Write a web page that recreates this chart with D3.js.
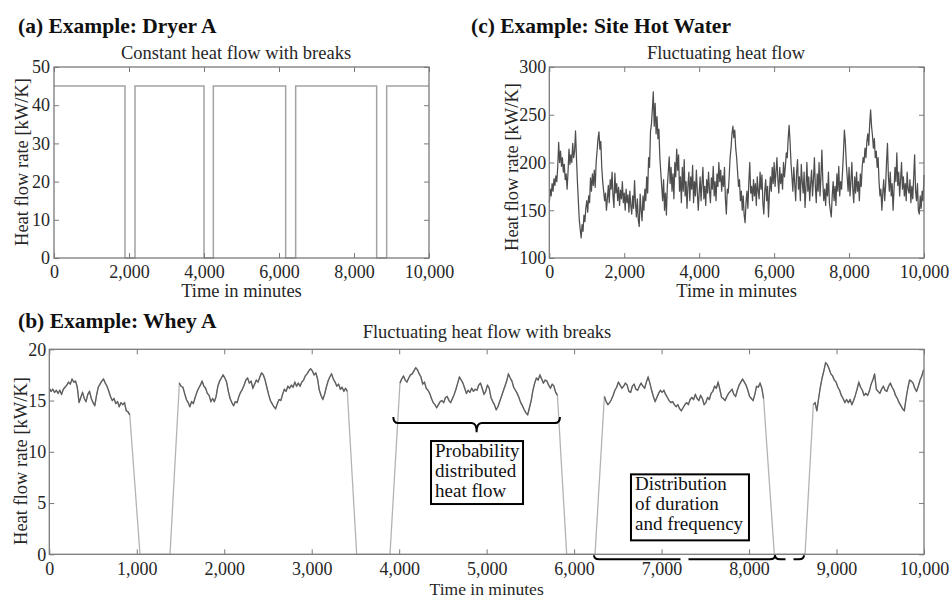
<!DOCTYPE html>
<html>
<head>
<meta charset="utf-8">
<script src="https://cdn.jsdelivr.net/npm/d3@7"></script>
<style>
  body { margin: 0; background: #fff; }
  svg text { font-family: "Liberation Serif", "Times New Roman", serif; }
</style>
</head>
<body>
<svg id="fig" width="949" height="599"></svg>
<script>
// ---------------- data ----------------
// (a) Dryer A: constant heat flow, switched off during breaks (minutes)
const dryerLevel = 45;
const dryerOnStart = [0, 2160, 4249, 6444, 8871];
const dryerOnEnd = [1893, 4000, 6178, 8604, 10000];

// (c) Site hot water: one sample every 25 minutes
const hotWaterStep = 25;
const hotWaterFlow = [
  158,172,165,178,170,183,176,186,180,195,221,200,212,196,205,190,198,182,188,172,
  190,214,198,208,200,220,205,212,233,205,180,160,140,130,121,135,128,145,138,152,
  160,148,165,158,184,170,188,176,192,174,200,212,225,232,214,222,195,180,170,160,
  168,150,162,176,158,182,172,190,165,153,189,168,178,160,174,155,171,162,180,158,
  168,150,172,158,166,148,170,155,146,165,152,181,158,143,162,140,133,167,150,139,
  165,150,172,160,185,168,205,195,232,240,255,274,238,262,230,248,225,235,205,190,
  175,160,182,150,168,145,175,190,206,178,195,170,188,162,200,185,214,192,208,170,
  185,158,195,170,203,165,180,152,176,190,160,185,172,197,158,180,165,192,170,150,
  168,185,160,178,195,162,175,155,182,168,190,170,158,184,172,196,165,180,160,188,
  175,200,180,192,170,186,175,195,162,146,172,168,185,205,215,230,238,226,234,215,
  205,190,175,182,160,170,150,165,145,137,158,170,152,180,200,168,175,160,182,165,
  178,155,185,170,162,190,172,187,158,146,170,182,160,175,143,168,185,170,195,178,
  200,175,190,205,182,168,195,178,188,172,200,185,196,210,205,225,239,222,200,185,
  170,195,178,160,190,203,172,185,160,198,180,168,190,153,175,200,170,185,160,178,
  192,165,182,205,175,158,188,170,200,165,185,213,180,160,172,155,178,165,190,158,
  150,143,165,180,160,175,155,188,170,196,165,180,172,190,210,234,222,200,185,170,
  195,165,180,200,172,158,185,168,190,170,180,160,188,175,195,205,200,215,205,222,
  230,218,240,255,238,228,215,225,205,212,195,205,180,165,172,150,168,182,160,175,
  200,220,185,170,190,165,178,150,172,195,180,210,176,190,165,182,200,172,185,165,
  178,160,190,172,168,182,158,175,162,185,208,170,160,178,150,146,165,152,170,160,
  187
];

// (b) Whey A: production runs sampled every 20 minutes, separated by breaks
const wheyStep = 20;
const wheyRunStart = [0, 1487, 4009, 6346, 8735];
const wheyRun1 = [
  16.2,15.9,16.1,15.8,16.0,15.7,16.0,15.6,16.1,16.3,16.5,16.8,16.6,17.1,16.8,16.9,
  16.3,14.8,15.3,15.8,15.2,14.9,15.6,15.9,15.2,14.8,14.5,15.5,16.3,16.6,16.9,17.1,
  16.7,16.4,15.9,15.4,15.0,15.2,14.7,14.9,14.4,14.8,14.6,14.8,14.0,13.9,13.6
];
const wheyRun2 = [
  16.7,16.4,16.3,15.7,15.1,14.8,14.4,14.9,14.7,15.3,15.8,16.2,16.5,16.9,16.4,16.2,
  15.7,15.5,14.9,15.2,14.9,15.4,16.4,16.9,17.2,17.5,17.2,16.8,15.9,15.2,14.8,14.5,
  14.9,14.8,15.4,15.8,16.1,16.5,17.0,17.2,16.7,16.9,16.2,16.6,17.0,16.8,17.3,17.7,
  17.5,17.0,16.3,15.6,15.0,14.7,14.4,14.2,14.7,15.1,15.0,15.6,16.1,15.9,16.4,16.2,
  16.5,16.3,16.8,16.4,16.7,16.4,16.8,17.0,17.4,17.6,17.9,18.1,17.9,17.5,17.7,17.1,
  16.0,15.5,15.1,15.6,16.3,16.9,17.3,17.6,17.1,16.8,16.4,16.6,16.1,16.3,15.9,16.2,
  15.9
];
const wheyRun3 = [
  16.7,17.1,17.4,17.0,16.8,17.2,17.5,17.6,17.9,18.2,18.0,17.6,17.3,16.6,16.8,16.2,
  16.0,15.7,15.2,14.8,14.6,14.3,14.6,14.9,15.0,14.8,15.3,15.4,15.0,14.8,15.2,15.6,
  16.1,16.7,17.3,17.0,16.7,16.2,15.7,16.0,15.8,16.2,15.9,16.1,16.0,16.5,16.7,16.2,
  15.6,15.9,16.5,16.2,15.3,14.9,14.6,14.1,14.4,14.9,15.4,15.9,16.4,16.9,17.6,17.2,
  16.9,16.3,16.0,15.7,15.3,14.8,14.5,14.1,13.8,13.6,14.3,15.0,16.0,16.7,17.2,17.0,
  17.5,17.1,16.7,17.0,16.9,16.5,16.2,16.6,16.4,15.8,15.5
];
const wheyRun4 = [
  15.4,14.9,14.6,14.8,15.1,15.5,16.0,16.3,16.8,16.5,16.2,16.4,16.7,16.5,15.9,15.8,
  16.4,16.6,16.1,16.0,16.4,16.7,16.4,16.2,16.8,17.3,16.7,16.0,15.4,14.9,15.3,15.7,
  16.0,15.8,16.0,15.6,15.3,15.0,14.8,14.9,14.6,14.4,14.6,14.2,14.0,14.3,14.6,14.8,
  14.6,15.1,15.3,15.1,15.6,15.2,15.0,15.5,15.2,14.6,14.8,15.3,15.1,15.7,15.9,16.4,
  16.2,16.8,16.1,15.3,15.2,15.0,15.4,15.7,15.9,16.1,15.6,15.4,16.0,16.5,16.8,17.1,
  16.8,16.5,16.0,15.4,15.2,15.0,15.6,16.4,16.3,16.7,16.2,15.2
];
const wheyRun5 = [
  14.6,14.8,14.0,15.2,16.3,17.2,17.9,18.7,18.5,18.1,17.6,17.4,17.0,16.8,16.3,16.0,
  15.5,15.2,14.8,15.1,14.8,15.1,14.6,15.0,15.5,16.1,16.8,16.3,16.0,15.5,15.7,15.5,
  15.9,16.6,17.0,17.6,16.1,15.9,15.7,16.1,16.4,16.0,15.9,16.4,16.7,16.3,16.0,15.5,
  15.2,14.8,14.5,14.2,14.0,15.2,16.2,17.0,16.9,16.7,16.2,15.9,16.4,17.0,17.4,18.0
];
const wheyRuns = [wheyRun1, wheyRun2, wheyRun3, wheyRun4, wheyRun5];
const wheyBreakStart = [1037, 3514, 5915, 8289];
const wheyBreakEnd = [1380, 3895, 6239, 8640];

// annotation spans on panel (b), in minutes
const flowBrace = [3933, 5838];
const breakBraces = [[6227, 8297], [8297, 8628]];

// axis ticks
const ticksTime2k = [0, 2000, 4000, 6000, 8000, 10000];
const ticksTime1k = d3.range(0, 10001, 1000);
const ticksDryer = [0, 10, 20, 30, 40, 50];
const ticksHotWater = [100, 150, 200, 250, 300];
const ticksWhey = [0, 5, 10, 15, 20];

// ---------------- drawing ----------------
const svg = d3.select("#fig");
const FRAME = "#7a7a7a";
const INK = "#262626";
const fmt = d3.format(",");

function drawPanel(o) {
  const x = d3.scaleLinear().domain([0, 10000]).range([o.left, o.right]);
  const y = d3.scaleLinear().domain(o.yDomain).range([o.bottom, o.top]);
  const g = svg.append("g");
  const layer = g.append("g");

  const style = sel => {
    sel.select(".domain").remove();
    sel.selectAll(".tick line").attr("stroke", FRAME).attr("stroke-width", 1);
    sel.selectAll(".tick text").attr("fill", INK).attr("font-size", 18)
      .style("font-family", '"Liberation Serif","Times New Roman",serif');
  };
  g.append("g").attr("transform", `translate(0,${o.bottom})`)
    .call(d3.axisBottom(x).tickValues(o.xTicks).tickFormat(fmt)
      .tickSizeInner(-5).tickSizeOuter(0).tickPadding(o.xPad)).call(style);
  g.append("g").attr("transform", `translate(0,${o.top})`)
    .call(d3.axisTop(x).tickValues(o.xTicks).tickFormat("")
      .tickSizeInner(-5).tickSizeOuter(0)).call(style);
  g.append("g").attr("transform", `translate(${o.left},0)`)
    .call(d3.axisLeft(y).tickValues(o.yTicks).tickFormat(fmt)
      .tickSizeInner(-5).tickSizeOuter(0).tickPadding(o.yPad)).call(style);
  g.append("g").attr("transform", `translate(${o.right},0)`)
    .call(d3.axisRight(y).tickValues(o.yTicks).tickFormat("")
      .tickSizeInner(-5).tickSizeOuter(0)).call(style);

  g.append("rect")
    .attr("x", o.left).attr("y", o.top)
    .attr("width", o.right - o.left).attr("height", o.bottom - o.top)
    .attr("fill", "none").attr("stroke", FRAME).attr("stroke-width", 1.3);

  // headings and axis titles
  svg.append("text").attr("x", o.headX).attr("y", o.headY)
    .attr("font-size", 21.5).attr("font-weight", "bold").attr("fill", "#111")
    .text(o.heading);
  svg.append("text").attr("x", o.subX).attr("y", o.subY)
    .attr("text-anchor", "middle").attr("font-size", 18.5).attr("fill", INK)
    .text(o.subtitle);
  svg.append("text").attr("x", (o.left + o.right) / 2).attr("y", o.xLabelY)
    .attr("text-anchor", "middle").attr("font-size", o.xLabelSize).attr("fill", INK)
    .text("Time in minutes");
  svg.append("text")
    .attr("transform", `translate(${o.yLabelX},${o.yLabelY}) rotate(-90)`)
    .attr("text-anchor", "middle").attr("font-size", 18.5).attr("fill", INK)
    .text("Heat flow rate [kW/K]");

  return { x, y, layer };
}

const line = (x, y) => d3.line().x(d => x(d.t)).y(d => y(d.v));

// (a) Dryer A
{
  const p = drawPanel({
    left: 54, right: 429, top: 67, bottom: 258,
    yDomain: [0, 50], xTicks: ticksTime2k, yTicks: ticksDryer, xPad: 7, yPad: 4,
    heading: "(a) Example: Dryer A", headX: 18, headY: 33,
    subtitle: "Constant heat flow with breaks", subX: 236, subY: 59,
    xLabelY: 297, xLabelSize: 18.5, yLabelX: 28, yLabelY: 162
  });
  const pts = [];
  dryerOnStart.forEach((s, i) => {
    if (i > 0) pts.push({ t: s, v: 0 });
    pts.push({ t: s, v: dryerLevel });
    pts.push({ t: dryerOnEnd[i], v: dryerLevel });
    if (dryerOnEnd[i] < 10000) pts.push({ t: dryerOnEnd[i], v: 0 });
  });
  p.layer.append("path").datum(pts)
    .attr("d", line(p.x, p.y)).attr("fill", "none")
    .attr("stroke", "#a3a3a3").attr("stroke-width", 1.5);
}

// (c) Site Hot Water
{
  const p = drawPanel({
    left: 549.3, right: 924, top: 67, bottom: 258,
    yDomain: [100, 300], xTicks: ticksTime2k, yTicks: ticksHotWater, xPad: 7, yPad: 3,
    heading: "(c) Example: Site Hot Water", headX: 471, headY: 33,
    subtitle: "Fluctuating heat flow", subX: 726, subY: 59,
    xLabelY: 297, xLabelSize: 18.5, yLabelX: 518, yLabelY: 167
  });
  const pts = hotWaterFlow.map((v, i) => ({ t: i * hotWaterStep, v }));
  p.layer.append("path").datum(pts)
    .attr("d", line(p.x, p.y)).attr("fill", "none")
    .attr("stroke", "#4e4e4e").attr("stroke-width", 1.25).attr("stroke-linejoin", "round");
}

// (b) Whey A
{
  const p = drawPanel({
    left: 49.3, right: 924, top: 349.3, bottom: 554.3,
    yDomain: [0, 20], xTicks: ticksTime1k, yTicks: ticksWhey, xPad: 8, yPad: 3,
    heading: "(b) Example: Whey A", headX: 18, headY: 328,
    subtitle: "Fluctuating heat flow with breaks", subX: 487, subY: 338,
    xLabelY: 595, xLabelSize: 17.5, yLabelX: 27, yLabelY: 461
  });
  const runs = wheyRuns.map((vals, r) =>
    vals.map((v, k) => ({ t: wheyRunStart[r] + k * wheyStep, v })));
  const all = [];
  runs.forEach((run, r) => {
    all.push(...run);
    if (r < wheyBreakStart.length) {
      all.push({ t: wheyBreakStart[r], v: 0 }, { t: wheyBreakEnd[r], v: 0 });
    }
  });
  // whole series including ramps into and out of each break
  p.layer.append("path").datum(all)
    .attr("d", line(p.x, p.y)).attr("fill", "none")
    .attr("stroke", "#b3b3b3").attr("stroke-width", 1.3);
  // production runs drawn darker
  runs.forEach(run => {
    p.layer.append("path").datum(run)
      .attr("d", line(p.x, p.y)).attr("fill", "none")
      .attr("stroke", "#5e5e5e").attr("stroke-width", 1.3).attr("stroke-linejoin", "round");
  });

  // curly braces
  const ann = svg.append("g").attr("fill", "none").attr("stroke", "#000").attr("stroke-width", 2);
  function brace(t1, t2, yEnd, yLine, yTip, gap) {
    const x1 = p.x(t1), x2 = p.x(t2), xm = (x1 + x2) / 2, r = 5;
    const path = d3.path();
    path.moveTo(x1, yEnd);
    path.quadraticCurveTo(x1, yLine, x1 + r, yLine);
    if (gap) {
      path.lineTo(xm - gap, yLine);
      path.moveTo(xm + gap, yLine);
    } else {
      path.lineTo(xm - r, yLine);
      path.quadraticCurveTo(xm, yLine, xm, yTip);
      path.quadraticCurveTo(xm, yLine, xm + r, yLine);
    }
    path.lineTo(x2 - r, yLine);
    path.quadraticCurveTo(x2, yLine, x2, yEnd);
    ann.append("path").attr("d", path.toString());
  }
  brace(flowBrace[0], flowBrace[1], p.y(13.4), p.y(12.8), p.y(11.9));
  breakBraces.forEach(b => brace(b[0], b[1], p.y(0) + 1, p.y(0) + 5, null, 4));

  // text boxes
  function box(t, v, w, h, lines) {
    const bx = p.x(t), by = p.y(v);
    const g = svg.append("g");
    g.append("rect").attr("x", bx).attr("y", by).attr("width", w).attr("height", h)
      .attr("fill", "#fff").attr("stroke", "#000").attr("stroke-width", 2);
    lines.forEach((s, i) => {
      g.append("text").attr("x", bx + 4).attr("y", by + 16 + i * 20)
        .attr("font-size", 19).attr("fill", "#111").text(s);
    });
  }
  box(4364, 11.05, 92, 63, ["Probability", "distributed", "heat flow"]);
  box(6650, 7.8, 118, 66, ["Distribution", "of duration", "and frequency"]);
}
</script>
</body>
</html>
